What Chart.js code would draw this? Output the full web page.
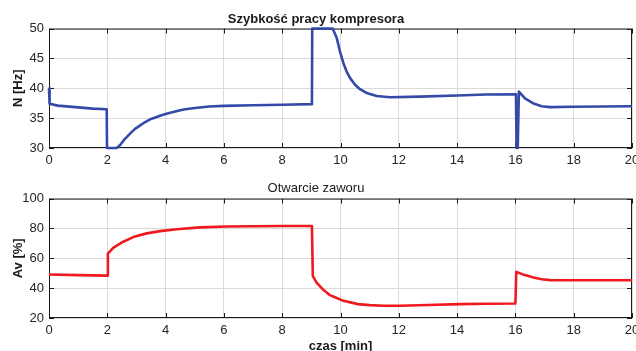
<!DOCTYPE html>
<html>
<head>
<meta charset="utf-8">
<script src="https://cdn.jsdelivr.net/npm/chart.js@4.4.1/dist/chart.umd.min.js"></script>
<style>
  html, body { margin: 0; padding: 0; background: #fff; overflow: hidden; width: 636px; height: 351px; }
  canvas { position: absolute; left: 0; }
  #speedChart { top: 0; }
  #valveChart { top: 175px; }
</style>
</head>
<body>
<canvas id="speedChart" width="636" height="175"></canvas>
<canvas id="valveChart" width="636" height="181"></canvas>
<script>
// Czas [min] i wartości
const xTicks = [0, 2, 4, 6, 8, 10, 12, 14, 16, 18, 20];
const speedTicks = [30, 35, 40, 45, 50];
const valveTicks = [20, 40, 60, 80, 100];

const speedTime = [0, 0.02, 0.3, 1, 1.5, 1.98, 1.99, 2.32, 2.44, 2.6, 2.78, 2.95, 3.13, 3.3, 3.47, 3.65, 3.81, 4.0,
  4.16, 4.4, 4.62, 5.0, 5.5, 6, 7, 8, 9.02, 9.03, 9.73, 9.87, 9.98, 10.1, 10.21, 10.33, 10.5, 10.67, 10.9,
  11.24, 11.7, 12.73, 14, 15, 16.02, 16.04, 16.08, 16.12, 16.33, 16.6, 16.9, 17.19, 18, 19, 20];
const speedValues = [40, 37.4, 37.1, 36.8, 36.6, 36.5, 30, 30, 30.5, 31.5, 32.4, 33.2, 33.8, 34.35, 34.8, 35.1, 35.4, 35.7,
  35.9, 36.2, 36.45, 36.7, 36.95, 37.05, 37.15, 37.25, 37.35, 50, 50, 48.45, 46.2, 44.2, 42.8, 41.7, 40.6, 39.85, 39.2,
  38.7, 38.5, 38.6, 38.8, 38.95, 39.0, 30, 30, 39.45, 38.3, 37.5, 37.0, 36.85, 36.9, 36.95, 37.0];

const valveTime = [0, 1, 2.0, 2.02, 2.21, 2.55, 2.89, 3.35, 3.81, 4.38, 5.18, 6.1, 7, 8, 9.02, 9.05, 9.18, 9.41,
  9.64, 9.75, 10.1, 10.6, 11.0, 11.47, 12.04, 13, 14.1, 15, 16.0, 16.03, 16.3, 16.62, 16.9, 17.2, 18, 19, 20];
const valveValues = [49.1, 48.7, 48.4, 63.1, 67.1, 71.1, 74.2, 76.7, 78.2, 79.5, 80.7, 81.3, 81.5, 81.6, 81.6, 48.2, 43.7, 38.9,
  35.3, 34.4, 31.5, 29.3, 28.6, 28.2, 28.2, 28.7, 29.3, 29.5, 29.7, 50.9, 48.9, 47.1, 46.0, 45.4, 45.3, 45.3, 45.3];

const FONT = 'Liberation Sans, Arial, sans-serif';
const GRID = '#dadada';
const INK = '#1a1a1a';

// ramka wykresu i krótkie znaczniki do środka (jak w MATLAB)
const frameTicks = {
  id: 'frameTicks',
  beforeDatasetsDraw(chart) {
    const { ctx, chartArea: a, scales } = chart;
    ctx.save();
    ctx.strokeStyle = INK;
    ctx.lineWidth = 1;
    ctx.strokeRect(a.left + 0.5, a.top + 0.5, a.right - a.left - 1, a.bottom - a.top - 1);
    ctx.beginPath();
    scales.x.ticks.forEach(t => {
      const px = Math.round(scales.x.getPixelForValue(t.value)) + 0.5;
      ctx.moveTo(px, a.top); ctx.lineTo(px, a.top + 5);
      ctx.moveTo(px, a.bottom); ctx.lineTo(px, a.bottom - 5);
    });
    scales.y.ticks.forEach(t => {
      const py = Math.round(scales.y.getPixelForValue(t.value)) + 0.5;
      ctx.moveTo(a.left, py); ctx.lineTo(a.left + 5, py);
      ctx.moveTo(a.right, py); ctx.lineTo(a.right - 5, py);
    });
    ctx.stroke();
    ctx.restore();
  },
};

function fixedTicks(values) {
  return scale => { scale.ticks = values.map(v => ({ value: v })); };
}

function makeChart(canvas, o) {
  return new Chart(canvas, {
    type: 'line',
    data: {
      datasets: [{
        data: o.time.map((t, i) => ({ x: t, y: o.values[i] })),
        borderColor: o.color,
        borderWidth: 2.6,
        borderJoinStyle: 'round',
        pointRadius: 0,
        tension: 0,
        clip: false,
      }],
    },
    options: {
      responsive: false,
      animation: false,
      devicePixelRatio: 1,
      layout: { padding: { left: 0, right: 4, top: 0, bottom: 0 } },
      plugins: {
        legend: { display: false },
        tooltip: { enabled: false },
        title: {
          display: true,
          text: o.title,
          color: INK,
          font: { family: FONT, size: 13, weight: o.titleWeight },
          padding: o.titlePadding,
        },
      },
      scales: {
        x: {
          type: 'linear',
          min: 0,
          max: 20,
          afterBuildTicks: fixedTicks(xTicks),
          ticks: { font: { family: FONT, size: 13 }, color: '#262626', padding: 5, maxRotation: 0 },
          grid: { color: GRID, drawTicks: false },
          border: { display: false },
          title: {
            display: !!o.xTitle,
            text: o.xTitle || '',
            color: INK,
            font: { family: FONT, size: 13, weight: 'bold' },
            padding: { top: 0, bottom: 2 },
          },
          afterFit(scale) {
            scale.height = o.xHeight;
            scale.paddingLeft = 0;
            scale.paddingRight = 0;
          },
        },
        y: {
          min: o.yMin,
          max: o.yMax,
          afterBuildTicks: fixedTicks(o.yTicks),
          ticks: { font: { family: FONT, size: 13 }, color: '#262626', padding: 5 },
          grid: { color: GRID, drawTicks: false },
          border: { display: false },
          title: {
            display: true,
            text: o.yTitle,
            color: INK,
            font: { family: FONT, size: 13, weight: 'bold' },
            padding: { top: 11, bottom: 0 },
          },
          afterFit(scale) {
            scale.width = 49;
            scale.paddingTop = 0;
            scale.paddingBottom = 0;
          },
        },
      },
    },
    plugins: [frameTicks],
  });
}

makeChart(document.getElementById('speedChart'), {
  time: speedTime,
  values: speedValues,
  color: '#3549a9',
  title: 'Szybkość pracy kompresora',
  titleWeight: 'bold',
  titlePadding: { top: 12, bottom: 1 },
  yTitle: 'N [Hz]',
  yMin: 30,
  yMax: 50,
  yTicks: speedTicks,
  xHeight: 27,
});

makeChart(document.getElementById('valveChart'), {
  time: valveTime,
  values: valveValues,
  color: '#f0191f',
  title: 'Otwarcie zaworu',
  titleWeight: 'normal',
  titlePadding: { top: 6, bottom: 2 },
  yTitle: 'Av [%]',
  yMin: 20,
  yMax: 100,
  yTicks: valveTicks,
  xTitle: 'czas [min]',
  xHeight: 38,
});
</script>
</body>
</html>
